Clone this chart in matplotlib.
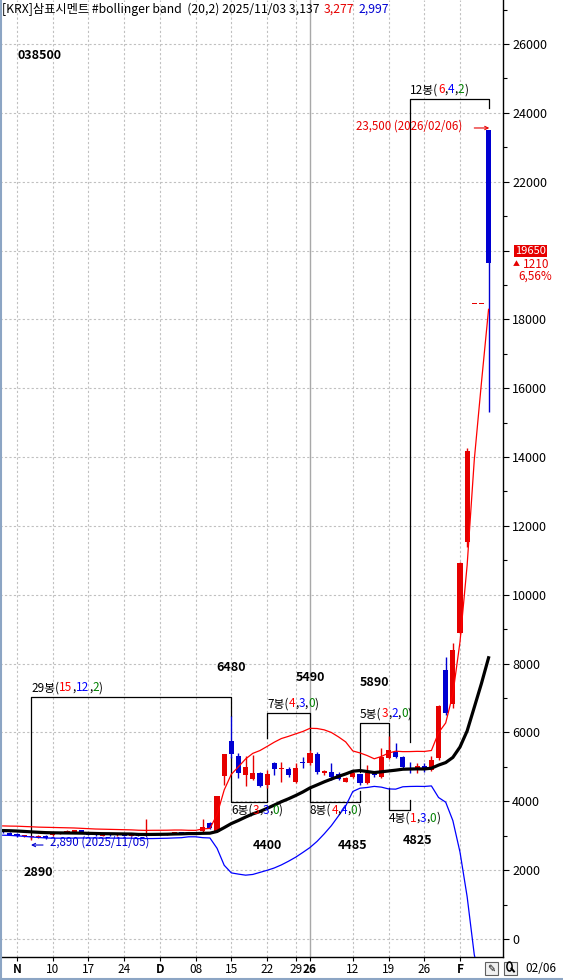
import numpy as np
import pandas as pd
import matplotlib
matplotlib.use("Agg")
import matplotlib.pyplot as plt
from matplotlib.offsetbox import TextArea, HPacker, AnnotationBbox
from matplotlib.lines import Line2D
from matplotlib.patches import Rectangle, Circle

plt.rcParams['font.family'] = ['Noto Sans CJK KR', 'DejaVu Sans']

W, H = 563, 980
RED = '#E60000'
BLUE = '#0000D2'
GREEN = '#008000'

# daily bars, index 0 = 2025/11/03 (two October bars before it)
first_idx = -2
opens = [3120, 3090, 3060, 2980, 2950, 2960, 3000, 3020, 3080, 3110,
         3120, 3150, 3100, 3040, 3000, 3040, 3010, 3030, 3000, 3020,
         3010, 3030, 3080, 3040, 3050, 3100, 3060, 3100, 3130, 3370,
         3120, 4740, 5760, 5320, 4760, 4640, 4830, 4480, 5100, 4940,
         4930, 4570, 5120, 5100, 5370, 4830, 4840, 4780, 4570, 4700,
         4790, 4530, 4780, 4700, 5260, 5440, 5300, 4960, 4910, 5030,
         4910, 5250, 7810, 6830, 8900, 11540, 18440, 18440, 23500]
highs = [3140, 3110, 3080, 3020, 3000, 3010, 3010, 3110, 3120, 3170,
         3180, 3170, 3110, 3060, 3060, 3050, 3050, 3040, 3040, 3030,
         3480, 3090, 3090, 3080, 3120, 3110, 3120, 3110, 3480, 3400,
         4160, 5380, 6480, 5410, 5310, 5345, 4850, 4910, 5150, 5150,
         5010, 5100, 5280, 5490, 5420, 4900, 5100, 4850, 4700, 4870,
         4800, 5050, 4860, 5540, 5890, 5690, 5330, 5150, 5120, 5120,
         5330, 6800, 8180, 8590, 10950, 14250, 18440, 18440, 23500]
lows = [3090, 3010, 2970, 2950, 2890, 2940, 2910, 3000, 3060, 3090,
        3100, 3100, 3010, 2990, 2980, 2990, 2990, 2980, 2990, 2980,
        3000, 3020, 3020, 3030, 3040, 3050, 3050, 3060, 3120, 3200,
        3100, 4470, 5250, 4670, 4445, 4620, 4420, 4400, 4770, 4570,
        4720, 4530, 4960, 5060, 4780, 4770, 4620, 4620, 4560, 4680,
        4485, 4500, 4700, 4680, 5220, 5270, 4960, 4825, 4830, 4860,
        4880, 5200, 6500, 6700, 8850, 11400, 18440, 18440, 15300]
closes = [3100, 3030, 2990, 3000, 2970, 2990, 2920, 3090, 3100, 3150,
          3160, 3120, 3030, 3010, 3040, 3010, 3030, 3000, 3020, 3000,
          3060, 3070, 3040, 3060, 3110, 3060, 3100, 3080, 3260, 3220,
          4150, 5370, 5380, 4830, 5010, 4830, 4445, 4790, 4930, 4960,
          4770, 4960, 5100, 5410, 4860, 4850, 4715, 4640, 4670, 4810,
          4540, 4810, 4760, 5280, 5490, 5300, 5000, 4900, 5030, 4900,
          5200, 6770, 6570, 8400, 10910, 14190, 18440, 18440, 19650]

# bollinger (20,2) as drawn for the first bars, whose 20-day window
# reaches back before the loaded bars
bb_mid_early = [3150, 3145, 3137, 3125, 3112, 3100, 3090, 3085, 3082, 3080,
                3078, 3075, 3070, 3065, 3060, 3058, 3055, 3052, 3050]
bb_up_early = [3285, 3280, 3277, 3268, 3260, 3250, 3245, 3240, 3235, 3230,
               3225, 3215, 3205, 3195, 3190, 3185, 3180, 3175, 3170]
bb_lo_early = [3015, 3010, 2997, 2982, 2964, 2950, 2935, 2930, 2929, 2930,
               2931, 2935, 2935, 2935, 2930, 2931, 2930, 2929, 2930]

tick_idx = [0, 5, 10, 15, 20, 25, 30, 35, 39, 41, 47, 52, 57, 62]
tick_lbl = ['N', '10', '17', '24', 'D', '08', '15', '22', '29', '26', '12', '19', '26', 'F']
bold_ticks = [0, 4, 9, 13]
year_idx = 41

# zigzag swings: start bar, end bar, bracket level, where each leg stops,
# and the (up, down, flat) bar counts
zz_from = [2, 30, 35, 41, 48, 52, 55]
zz_to = [30, 35, 41, 48, 52, 55, 66]
zz_level = [7030, 3990, 6565, 3990, 6275, 3750, 24400]
zz_start = [2930, 5300, 5840, 4350, 4850, 4390, 5720]
zz_end = [6480, 4760, 5490, 4300, 5490, 4040, 24140]
zz_counts = [(15, 12, 2), (3, 3, 0), (4, 3, 0), (4, 4, 0), (3, 2, 0), (1, 3, 0), (6, 4, 2)]

peak_lbl = ['6480', '5490', '5890', '4400', '4485', '4825', '2890']

x = np.arange(first_idx, first_idx + len(closes))
o = np.array(opens, float)
h = np.array(highs, float)
l = np.array(lows, float)
c = np.array(closes, float)

cs = pd.Series(c)
mid = cs.rolling(20).mean().to_numpy()
sd = cs.rolling(20).std(ddof=0).to_numpy()
up = mid + 2 * sd
lo = mid - 2 * sd
n0 = len(bb_mid_early)
mid[:n0] = bb_mid_early
up[:n0] = bb_up_early
lo[:n0] = bb_lo_early

fig = plt.figure(figsize=(W / 100, H / 100), dpi=100)
ax = fig.add_axes([0, 23 / H, 503 / W, 957 / H])
ax.set_xlim(-2.38, 68.02)
ax.set_ylim(-523, 27278)

# grid
ax.set_yticks(np.arange(0, 26001, 2000))
ax.set_yticks(np.arange(1000, 27001, 2000), minor=True)
ax.grid(axis='y', which='major', color='#C0C0C0', ls=(0, (2, 2)), lw=0.8)
for t in tick_idx:
    if t == year_idx:
        ax.axvline(t, color='#A8A8A8', lw=1.0, zorder=0.5)
    else:
        ax.axvline(t, color='#C0C0C0', ls=(0, (2, 2)), lw=0.8, zorder=0.5)

# candles
cols = [RED if cc >= oo else BLUE for oo, cc in zip(o, c)]
ax.vlines(x, l, h, colors=cols, lw=1.0, zorder=3)
body = np.maximum(np.abs(c - o), 40)
ax.bar(x, body, bottom=np.minimum(o, c), width=0.72, color=cols, lw=0, zorder=3)

# bollinger bands
ax.plot(x, up, color='#FF0000', lw=0.9, zorder=4)
ax.plot(x, lo, color='#0000FF', lw=0.9, zorder=4)
ax.plot(x, mid, color='black', lw=2.3, zorder=4)

# zigzag brackets
for a, b, lev, v0, v1, cnt in zip(zz_from, zz_to, zz_level, zz_start, zz_end, zz_counts):
    rising = lev > v1
    ax.plot([a, a, b, b], [v0, lev, lev, v1], color='black', lw=0.9, zorder=2)
    parts = [(f"{b - a + 1}봉(", 'black'), (str(cnt[0]), '#FF0000'), (',', 'black'),
             (str(cnt[1]), '#0000FF'), (',', 'black'), (str(cnt[2]), GREEN), (')', 'black')]
    pk = HPacker(children=[TextArea(s, textprops=dict(color=col, fontsize=8.5)) for s, col in parts],
                 align='baseline', pad=0, sep=0)
    ab = AnnotationBbox(pk, (a, lev), xybox=(0, 2 if rising else -1.5), xycoords='data',
                        boxcoords='offset points', box_alignment=(0, 0) if rising else (0, 1),
                        frameon=False, pad=0, annotation_clip=False, zorder=5)
    ax.add_artist(ab)

# swing values
peak_pos = [(29.95, 7900), (41.0, 7610), (49.97, 7465), (35.0, 2730),
            (47.0, 2730), (56.0, 2875), (2.94, 1945)]
for s, (tx, ty) in zip(peak_lbl, peak_pos):
    ax.text(tx, ty, s, ha='center', va='center', fontsize=9, fontweight='bold', zorder=6)
ax.text(0, 25680, '038500', ha='left', va='center', fontsize=9, fontweight='bold')

# low / high notes
ax.annotate('', xy=(1.96, 2730), xytext=(3.64, 2730),
            arrowprops=dict(arrowstyle='->', color=BLUE, lw=0.8, shrinkA=0, shrinkB=0, mutation_scale=6))
ax.text(4.62, 2818, '2,890 (2025/11/05)', color=BLUE, fontsize=8.3, ha='left', va='center')
ax.text(62.3, 23620, '23,500 (2026/02/06)', color=RED, fontsize=8.3, ha='right', va='center')
ax.annotate('', xy=(66.1, 23560), xytext=(64.0, 23560),
            arrowprops=dict(arrowstyle='->', color=RED, lw=0.8, shrinkA=0, shrinkB=0, mutation_scale=6))

# right price axis
ax.yaxis.tick_right()
ax.tick_params(axis='y', which='major', length=4.5, width=0.8, labelsize=9, pad=2)
ax.tick_params(axis='y', which='minor', length=3, width=0.8)
ylbls = [str(v) if v != 20000 else '' for v in range(0, 26001, 2000)]
ax.set_yticklabels(ylbls)

ax.set_xticks(tick_idx)
ax.set_xticklabels(tick_lbl)
ax.tick_params(axis='x', length=3, width=0.8, labelsize=8.5, pad=1)
for k, t in enumerate(ax.get_xticklabels()):
    if k in bold_ticks:
        t.set_fontweight('bold')

for sp in ['left', 'top']:
    ax.spines[sp].set_visible(False)
ax.spines['right'].set_linewidth(1.0)
ax.spines['bottom'].set_linewidth(1.0)

# current price tag
tr = ax.get_yaxis_transform()
ax.text(1.024, 19980, '19650', transform=tr, color='white', fontsize=8, ha='left', va='center',
        bbox=dict(boxstyle='square,pad=0.08', facecolor=RED, edgecolor='none'))
ax.text(1.020, 19620, '▲', transform=tr, color=RED, fontsize=5, ha='left', va='center')
ax.text(1.040, 19600, '1210', transform=tr, color=RED, fontsize=8.5, ha='left', va='center')
ax.text(1.030, 19260, '6,56%', transform=tr, color=RED, fontsize=8.5, ha='left', va='center')

# header
hdr = [("[KRX]삼표시멘트 #bollinger band  (20,2) 2025/11/03 3,137", 'black'),
       ("3,277", RED), ("2,997", BLUE)]
hp = HPacker(children=[TextArea(s, textprops=dict(color=col, fontsize=8.8)) for s, col in hdr],
             align='baseline', pad=0, sep=3)
fig.add_artist(AnnotationBbox(hp, (2 / W, 1 - 9 / H), xycoords='figure fraction',
                              box_alignment=(0, 0.5), frameon=False, pad=0))

# bottom right
fig.text(541 / W, 1 - 968 / H, '02/06', ha='center', va='center', fontsize=8.5)
for x0 in [485, 504]:
    fig.add_artist(Rectangle((x0 / W, 1 - 975 / H), 13 / W, 13 / H, transform=fig.transFigure,
                             facecolor='#F0F0F0', edgecolor='#606060', lw=0.8))
fig.text(491.5 / W, 1 - 968.5 / H, '✎', ha='center', va='center', fontsize=7, family='DejaVu Sans')
fig.add_artist(Circle((509.5 / W, 1 - 966.5 / H), 2.6 / W, transform=fig.transFigure,
                      facecolor='none', edgecolor='black', lw=1.1))
fig.add_artist(Line2D([511.5 / W, 514 / W], [1 - 968.5 / H, 1 - 971.5 / H], color='black', lw=1.4))

# window frame
fig.add_artist(Line2D([0.8 / W, 0.8 / W], [0, 1], color='#8CA5C4', lw=1.5))
fig.add_artist(Line2D([0, 1], [1.5 / H, 1.5 / H], color='#8CA5C4', lw=1.5))

fig.savefig('out.png', dpi=100)
